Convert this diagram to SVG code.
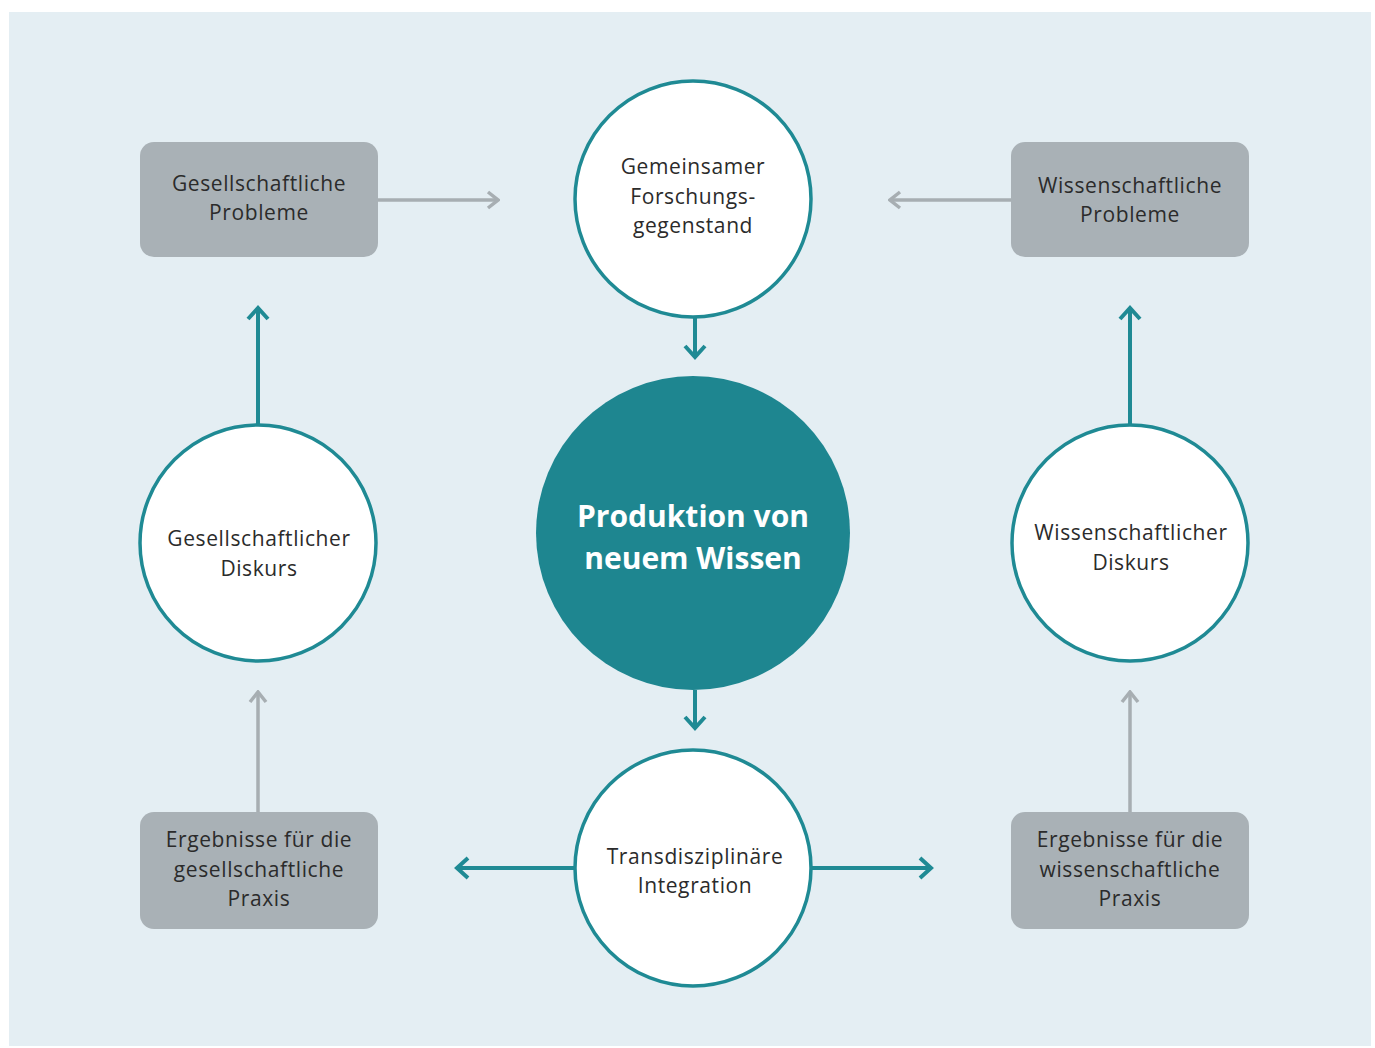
<svg xmlns="http://www.w3.org/2000/svg" width="1375" height="1048" viewBox="0 0 1375 1048">
<defs>
<style>
.box{fill:#a9b1b6}
.circ{fill:#ffffff;stroke:#1f8a94;stroke-width:3.5}
.t{font-family:"Open Sans","Liberation Sans",sans-serif;font-size:21px;fill:#2b2b2b;text-anchor:middle;letter-spacing:0.6px}
.tb{font-family:"Open Sans","Liberation Sans",sans-serif;font-size:30px;font-weight:bold;fill:#ffffff;text-anchor:middle;letter-spacing:0px}
.gl{stroke:#a7aeb2;stroke-width:3.5;fill:none}
.tl{stroke:#1f8a94;stroke-width:4;fill:none}
</style>
<marker id="ag" viewBox="0 0 14 20" refX="12" refY="10" markerWidth="14" markerHeight="20" markerUnits="userSpaceOnUse" orient="auto">
<path d="M2,2 L12,10 L2,18" fill="none" stroke="#a7aeb2" stroke-width="3.5"/>
</marker>
<marker id="at" viewBox="0 0 16 24" refX="13" refY="12" markerWidth="16" markerHeight="24" markerUnits="userSpaceOnUse" orient="auto">
<path d="M2,2 L13,12 L2,22" fill="none" stroke="#1f8a94" stroke-width="4"/>
</marker>
</defs>
<rect x="0" y="0" width="1375" height="1048" fill="#ffffff"/>
<rect x="9" y="12" width="1362" height="1034" fill="#e4eef3"/>
<g id="connectors">
<line class="gl" x1="378" y1="200" x2="498" y2="200" marker-end="url(#ag)"/>
<line class="gl" x1="1011" y1="200" x2="890" y2="200" marker-end="url(#ag)"/>
<line class="gl" x1="258" y1="812" x2="258" y2="692" marker-end="url(#ag)"/>
<line class="gl" x1="1130" y1="812" x2="1130" y2="692" marker-end="url(#ag)"/>
<line class="tl" x1="695" y1="317" x2="695" y2="357" marker-end="url(#at)"/>
<line class="tl" x1="695" y1="690" x2="695" y2="728" marker-end="url(#at)"/>
<line class="tl" x1="575" y1="868" x2="457" y2="868" marker-end="url(#at)"/>
<line class="tl" x1="811" y1="868" x2="931" y2="868" marker-end="url(#at)"/>
<line class="tl" x1="258" y1="425" x2="258" y2="308" marker-end="url(#at)"/>
<line class="tl" x1="1130" y1="425" x2="1130" y2="308" marker-end="url(#at)"/>
</g>
<g id="box-gp"><rect class="box" x="140" y="142" width="238" height="115" rx="14"/>
<text class="t" x="259" y="191">Gesellschaftliche</text><text class="t" x="259" y="220">Probleme</text></g>
<g id="box-wp"><rect class="box" x="1011" y="142" width="238" height="115" rx="14"/>
<text class="t" x="1130" y="193">Wissenschaftliche</text><text class="t" x="1130" y="222">Probleme</text></g>
<g id="box-eg"><rect class="box" x="140" y="812" width="238" height="117" rx="14"/>
<text class="t" x="259" y="847">Ergebnisse für die</text><text class="t" x="259" y="877">gesellschaftliche</text><text class="t" x="259" y="906">Praxis</text></g>
<g id="box-ew"><rect class="box" x="1011" y="812" width="238" height="117" rx="14"/>
<text class="t" x="1130" y="847">Ergebnisse für die</text><text class="t" x="1130" y="877">wissenschaftliche</text><text class="t" x="1130" y="906">Praxis</text></g>
<g id="c-top"><circle class="circ" cx="693" cy="199" r="118"/>
<text class="t" x="693" y="174">Gemeinsamer</text><text class="t" x="693" y="204">Forschungs-</text><text class="t" x="693" y="233">gegenstand</text></g>
<g id="c-center"><circle cx="693" cy="533" r="157" fill="#1e8690"/>
<text class="tb" x="693" y="527">Produktion von</text><text class="tb" x="693" y="569">neuem Wissen</text></g>
<g id="c-bottom"><circle class="circ" cx="693" cy="868" r="118"/>
<text class="t" x="695" y="864">Transdisziplinäre</text><text class="t" x="695" y="893">Integration</text></g>
<g id="c-left"><circle class="circ" cx="258" cy="543" r="118"/>
<text class="t" x="259" y="546">Gesellschaftlicher</text><text class="t" x="259" y="576">Diskurs</text></g>
<g id="c-right"><circle class="circ" cx="1130" cy="543" r="118"/>
<text class="t" x="1131" y="540">Wissenschaftlicher</text><text class="t" x="1131" y="570">Diskurs</text></g>
</svg>
